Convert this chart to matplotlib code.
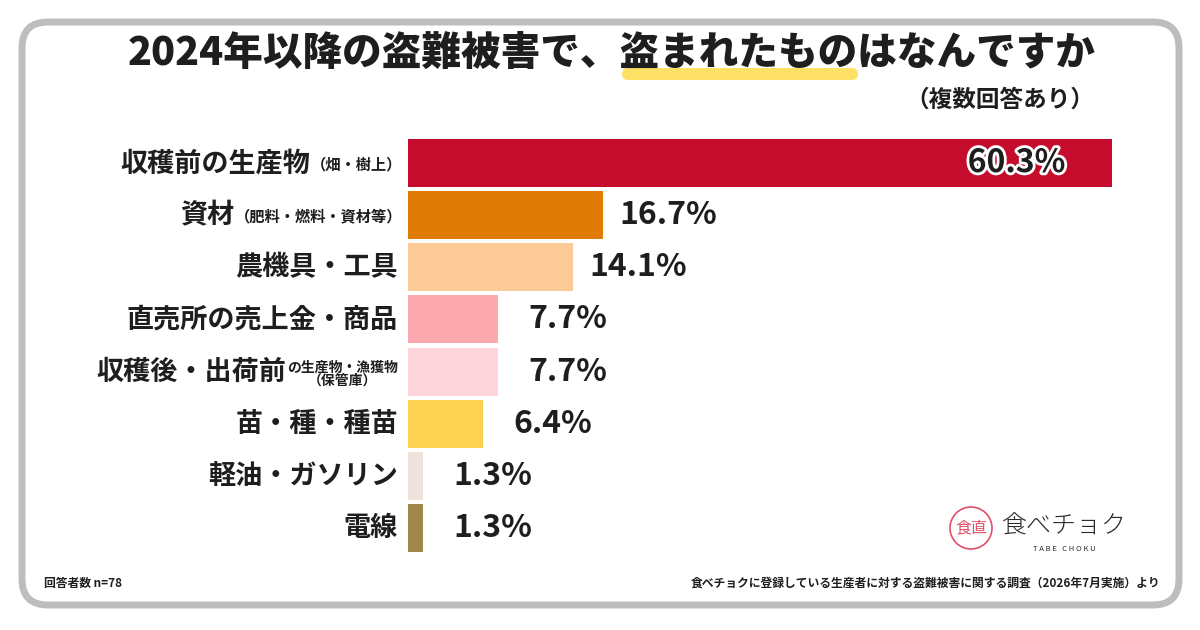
import matplotlib
matplotlib.use("Agg")
import matplotlib.pyplot as plt
import matplotlib.patheffects as pe
from matplotlib.patches import FancyBboxPatch, Circle

plt.rcParams['font.family'] = ['Noto Sans CJK JP', 'DejaVu Sans']

# data
categories = ['収穫前の生産物', '資材', '農機具・工具', '直売所の売上金・商品',
              '収穫後・出荷前', '苗・種・種苗', '軽油・ガソリン', '電線']
sub_labels = ['（畑・樹上）', '（肥料・燃料・資材等）', '', '',
              'の生産物・漁獲物\n（保管庫）', '', '', '']
values = [60.3, 16.7, 14.1, 7.7, 7.7, 6.4, 1.3, 1.3]
colors = ['#C60C2C', '#E07C05', '#FDCB98', '#FBA8AE',
          '#FED5DA', '#FED251', '#EFE3DD', '#A0884A']

title = '2024年以降の盗難被害で、盗まれたものはなんですか'
subtitle = '（複数回答あり）'
note_left = '回答者数 n=78'
note_right = '食べチョクに登録している生産者に対する盗難被害に関する調査（2026年7月実施）より'

W, H = 1200, 630
fig = plt.figure(figsize=(W / 100, H / 100), dpi=100)
fig.patch.set_facecolor('white')

# background / decoration axes in pixel coords
bg = fig.add_axes([0, 0, 1, 1], zorder=0)
bg.set_xlim(0, W)
bg.set_ylim(H, 0)
bg.axis('off')

frame = FancyBboxPatch((22, 22), 1157, 583, boxstyle='round,pad=0,rounding_size=26',
                       fc='white', ec='#BDBCBE', lw=5)
bg.add_patch(frame)

# title highlight
hl = FancyBboxPatch((622, 68), 236, 12, boxstyle='round,pad=0,rounding_size=6',
                    fc='#FFE066', ec='none')
bg.add_patch(hl)
bg.text(612, 53, title, ha='center', va='center', fontsize=28.5, fontweight='heavy',
        color='#1E1E1E')
bg.text(1094, 100, subtitle, ha='right', va='center', fontsize=17, fontweight='bold',
        color='#1E1E1E')

bg.text(44, 583, note_left, ha='left', va='center', fontsize=8.5, fontweight='bold',
        color='#1E1E1E')
bg.text(1160, 583, note_right, ha='right', va='center', fontsize=8.5, fontweight='bold',
        color='#1E1E1E')

# logo
bg.add_patch(Circle((971, 528), 21, fc='none', ec='#E0506A', lw=1.2))
bg.text(971, 528, '食直', ha='center', va='center', fontsize=11.5, color='#E0506A')
bg.text(1064, 526, '食べチョク', ha='center', va='center', fontsize=18,
        fontweight='light', color='#2A2A2A')
bg.text(1064, 549, 'T A B E   C H O K U', ha='center', va='center', fontsize=5.5,
        color='#2A2A2A')

# bar axes: x 0 at px 408, 11.675 px per %
x0_px = 408
px_per = 11.675
xmax = 66
top_px, bot_px = 137, 554
ax = fig.add_axes([x0_px / W, (H - bot_px) / H, xmax * px_per / W, (bot_px - top_px) / H],
                  zorder=1)
ax.patch.set_alpha(0)
y = list(range(len(categories)))
ax.barh(y, values, height=0.92, color=colors)
ax.set_xlim(0, xmax)
ax.set_ylim(len(categories) - 0.5, -0.5)
ax.axis('off')

fig.canvas.draw()
renderer = fig.canvas.get_renderer()
label_x = -0.85
for i, (cat, sub, v) in enumerate(zip(categories, sub_labels, values)):
    offset = 0
    if sub:
        fs = 11 if i != 4 else 10
        sx = label_x + (0.4 if i != 4 else 0.0)
        t = ax.text(sx, i + (0.02 if i != 4 else 0.05), sub, ha='right', va='center',
                    fontsize=fs, fontweight='bold', color='#1E1E1E',
                    multialignment='center', linespacing=0.95)
        bb = t.get_window_extent(renderer)
        offset = bb.width / px_per + (label_x - sx) + 0.1
    ax.text(label_x - offset, i, cat, ha='right', va='center', fontsize=19.5,
            fontweight='bold', color='#1E1E1E')
    label = f'{v}%'
    if i == 0:
        ax.text(v - 4.0, i, label, ha='right', va='center', fontsize=23,
                fontweight='bold', color='#1E1E1E',
                path_effects=[pe.withStroke(linewidth=4, foreground='white')])
    else:
        gap = 1.4 if v > 10 else 2.6
        ax.text(v + gap, i, label, ha='left', va='center', fontsize=23,
                fontweight='bold', color='#1E1E1E')

fig.savefig('out.png', dpi=100)
plt.close(fig)
